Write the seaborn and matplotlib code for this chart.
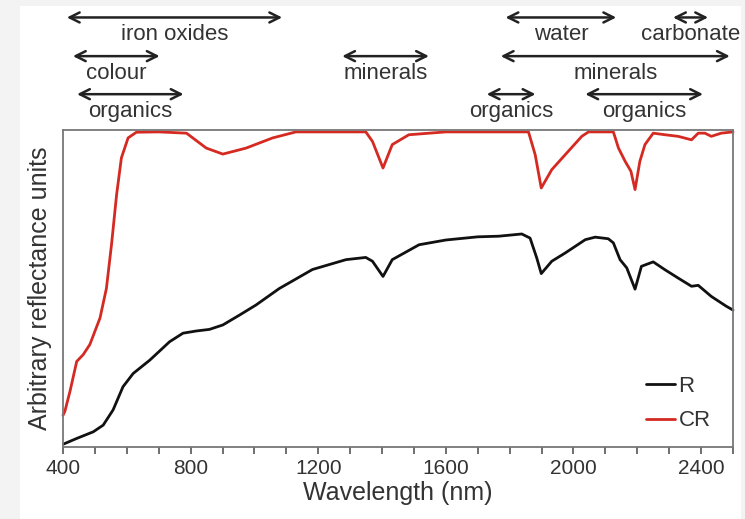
import seaborn as sns
import matplotlib.pyplot as plt
import matplotlib.patches as mpatches
import pandas as pd
import numpy as np

# reflectance spectrum (R)
r_wl = [401, 443, 495, 526, 557, 588, 620, 672, 734, 776, 818, 859, 901, 953, 1005,
        1078, 1182, 1287, 1349, 1370, 1403, 1432, 1516, 1600, 1700, 1766, 1838, 1864,
        1885, 1899, 1932, 1974, 2037, 2068, 2109, 2125, 2146, 2167, 2193, 2213, 2250,
        2287, 2328, 2370, 2391, 2432, 2479, 2500]
r_val = [0.009, 0.027, 0.048, 0.069, 0.117, 0.19, 0.232, 0.274, 0.332, 0.359, 0.366,
         0.371, 0.385, 0.416, 0.448, 0.50, 0.56, 0.591, 0.598, 0.586, 0.538, 0.591,
         0.638, 0.653, 0.663, 0.665, 0.672, 0.659, 0.596, 0.547, 0.586, 0.612, 0.654,
         0.662, 0.657, 0.644, 0.591, 0.565, 0.498, 0.57, 0.584, 0.559, 0.533, 0.507,
         0.51, 0.475, 0.444, 0.432]

# continuum removed spectrum (CR)
cr_wl = [400, 406, 422, 443, 463, 484, 516, 536, 552, 568, 583, 604, 630, 700, 787,
         849, 901, 974, 1057, 1130, 1300, 1349, 1370, 1403, 1432, 1484, 1600, 1800,
         1859, 1880, 1899, 1932, 1974, 2026, 2047, 2125, 2141, 2162, 2180, 2193, 2208,
         2224, 2250, 2287, 2328, 2370, 2391, 2412, 2432, 2463, 2500]
cr_val = [0.10, 0.113, 0.176, 0.27, 0.291, 0.323, 0.407, 0.50, 0.638, 0.796, 0.912,
          0.975, 0.993, 0.994, 0.99, 0.943, 0.924, 0.943, 0.975, 0.994, 0.994, 0.994,
          0.964, 0.88, 0.954, 0.985, 0.994, 0.994, 0.994, 0.922, 0.817, 0.875, 0.922,
          0.98, 0.994, 0.994, 0.943, 0.901, 0.87, 0.812, 0.901, 0.954, 0.99, 0.985,
          0.98, 0.969, 0.99, 0.99, 0.98, 0.99, 0.994]

# absorption feature ranges shown above the plot (nm)
band_labels = ["iron oxides", "colour", "organics", "minerals", "water",
               "carbonate", "minerals", "organics", "organics"]
band_start = [412, 431, 444, 1275, 1787, 2312, 1772, 1728, 2037]
band_end = [1087, 703, 778, 1547, 2134, 2422, 2490, 1881, 2406]
band_row = [0, 1, 2, 1, 0, 0, 1, 2, 2]

df = pd.concat([
    pd.DataFrame({"Wavelength": r_wl, "Value": r_val, "Spectrum": "R"}),
    pd.DataFrame({"Wavelength": cr_wl, "Value": cr_val, "Spectrum": "CR"}),
])

sns.set_theme(style="ticks")
plt.rcParams["font.family"] = ["Liberation Sans", "DejaVu Sans"]
plt.rcParams["text.color"] = "#333333"

fig = plt.figure(figsize=(7.45, 5.19), dpi=100, facecolor="#f3f3f3")
# white page area inside the grey screenshot border
fig.patches.append(mpatches.Rectangle((20 / 745, 0), 721 / 745, 1 - 6 / 519,
                                      transform=fig.transFigure, facecolor="white",
                                      edgecolor="none", zorder=-10))
ax = fig.add_axes([63 / 745, 72 / 519, 670 / 745, 317 / 519])
ax.patch.set_alpha(0)

palette = {"R": "#111111", "CR": "#d42a22"}
sns.lineplot(data=df, x="Wavelength", y="Value", hue="Spectrum", palette=palette,
             sort=False, estimator=None, linewidth=2.0, ax=ax)
for line in ax.lines:
    line.set_clip_on(False)
    line.set_solid_joinstyle("round")

ax.set_xlim(400, 2500)
ax.set_ylim(0, 1)
ax.set_xticks(np.arange(400, 2401, 400))
ax.set_xticks(np.arange(400, 2501, 100), minor=True)
ax.set_yticks([])
ax.tick_params(axis="x", which="both", direction="out", length=5, width=1.2,
               colors="#555555", labelsize=15, labelcolor="#333333")
for sp in ax.spines.values():
    sp.set_color("#777777")
    sp.set_linewidth(1.3)
ax.set_xlabel("Wavelength (nm)", fontsize=18, color="#333333", labelpad=2)
ax.set_ylabel("Arbitrary reflectance units", fontsize=18, color="#333333", labelpad=8)

leg = ax.legend(loc="lower right", frameon=False, fontsize=16, handlelength=1.3,
                handletextpad=0.15, labelspacing=0.6, borderaxespad=0.3,
                bbox_to_anchor=(0.99, 0.0))
for h in leg.get_lines():
    h.set_linewidth(2.0)

row_y = [1.355, 1.233, 1.113]
trans = ax.get_xaxis_transform()
for lab, x0, x1, r in zip(band_labels, band_start, band_end, band_row):
    ax.annotate("", xy=(x1, row_y[r]), xytext=(x0, row_y[r]), xycoords=trans,
                textcoords=trans, annotation_clip=False,
                arrowprops=dict(arrowstyle="<->", color="#222222", lw=1.8,
                                mutation_scale=18, shrinkA=0, shrinkB=0))
    ax.text((x0 + x1) / 2, row_y[r] - 0.055, lab, transform=trans, ha="center",
            va="center", fontsize=16, color="#333333")

fig.savefig("out.png", dpi=100, facecolor=fig.get_facecolor())
